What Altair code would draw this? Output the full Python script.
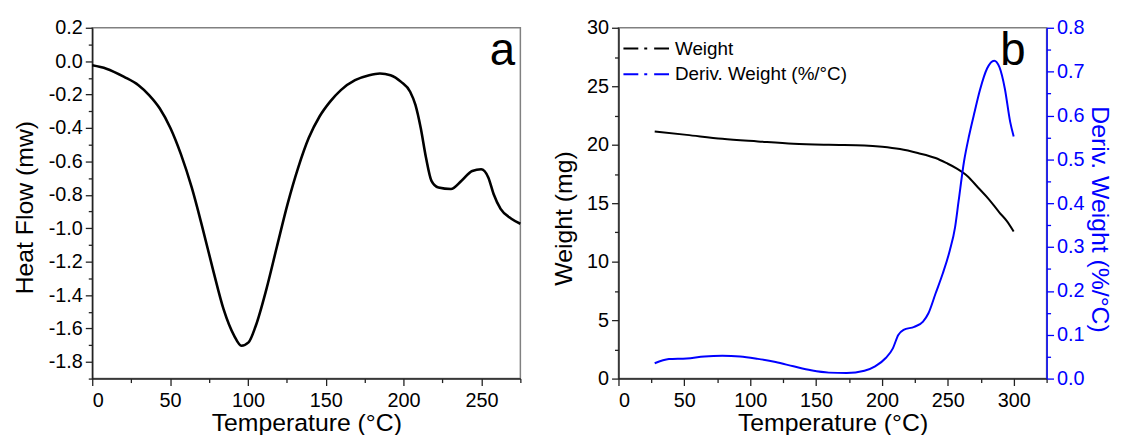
import altair as alt
import pandas as pd

# ---------------- data ----------------
dsc_temp = [0, 9.1, 20.5, 29.7, 36.5, 43.3, 50.2, 57.0, 63.9, 70.7, 77.6, 84.4, 91.2, 95.8,
            100.4, 105.0, 111.8, 118.6, 125.5, 132.3, 139.1, 146.0, 152.8, 159.7, 168.8,
            177.9, 184.8, 191.6, 198.4, 204.2, 207.6, 211.0, 214.4, 217.9, 222.4, 230.4,
            237.2, 244.1, 249.8, 254.4, 257.8, 262.3, 269.2, 275.0]
dsc_heat = [-0.025, -0.045, -0.094, -0.144, -0.203, -0.282, -0.40, -0.558, -0.756, -0.993,
            -1.249, -1.486, -1.644, -1.703, -1.683, -1.585, -1.367, -1.111, -0.854, -0.637,
            -0.459, -0.331, -0.242, -0.173, -0.114, -0.084, -0.074, -0.084, -0.124, -0.183,
            -0.262, -0.40, -0.578, -0.716, -0.756, -0.765, -0.716, -0.657, -0.647, -0.696,
            -0.795, -0.884, -0.943, -0.973]

tga_temp = [27.5, 51.8, 78.8, 105.8, 132.8, 159.7, 186.7, 200.2, 213.7, 227.2, 240.7, 248.8,
            256.9, 265.0, 273.1, 281.2, 289.2, 294.7, 300.0]
tga_weight = [21.13, 20.84, 20.5, 20.28, 20.08, 19.99, 19.94, 19.83, 19.63, 19.29, 18.86,
              18.44, 17.96, 17.31, 16.32, 15.33, 14.2, 13.49, 12.58]

dtg_temp = [27.5, 38.3, 51.8, 65.3, 78.8, 92.3, 105.8, 119.3, 132.8, 146.2, 159.7, 173.2,
            186.7, 194.8, 202.9, 208.3, 212.4, 216.4, 224.5, 231.2, 235.3, 240.7, 246.1,
            251.5, 255.5, 258.2, 262.3, 266.3, 270.4, 274.4, 279.8, 285.2, 289.2, 293.3,
            297.3, 300.0]
dtg_deriv = [0.035, 0.0445, 0.046, 0.0505, 0.052, 0.0505, 0.045, 0.0377, 0.028, 0.0189,
             0.0136, 0.0128, 0.018, 0.028, 0.047, 0.069, 0.0995, 0.111, 0.118, 0.13, 0.149,
             0.194, 0.239, 0.292, 0.345, 0.405, 0.495, 0.556, 0.609, 0.658, 0.707, 0.725,
             0.71, 0.661, 0.586, 0.552]

series_names = ["Weight", "Deriv. Weight (%/°C)"]
series_colors = ["#000000", "#0000ff"]
panel_labels = ["a", "b"]

FONT = "Liberation Sans"
W, H = 432, 354
BLUE = "#0000ff"
LBL, TTL = 20, 25


def fmt1(test):
    return f"{test} ? replace(format(datum.value, '.1f'), '\u2212', '-') : ''"


def tick_size(test):
    return {"condition": {"test": test, "value": 7}, "value": 4}


def x_axis(vals):
    return alt.Axis(title="Temperature (°C)", values=vals,
                    labelExpr="datum.value % 50 === 0 ? datum.label : ''",
                    tickSize=tick_size("datum.value % 50 === 0"),
                    labelPadding=5, titleBaseline="alphabetic", titleY=52)


# ---------------- panel a ----------------
dsc_df = pd.DataFrame({"t": dsc_temp, "hf": dsc_heat})

xa_vals = list(range(0, 276, 25))
ya_vals = [round(-1.9 + 0.1 * i, 1) for i in range(22)]
ya_test = "abs(round(datum.value*10)) % 2 === 0"

line_a = alt.Chart(dsc_df).mark_line(color="black", strokeWidth=2.6, interpolate="monotone").encode(
    x=alt.X("t:Q", scale=alt.Scale(domain=[0, 275], nice=False, zero=False),
            axis=x_axis(xa_vals)),
    y=alt.Y("hf:Q", scale=alt.Scale(domain=[-1.9, 0.2], nice=False, zero=False),
            axis=alt.Axis(title="Heat Flow (mw)", values=ya_vals,
                          labelExpr=fmt1(ya_test),
                          tickSize=tick_size(ya_test),
                          labelPadding=3, titlePadding=11, titleY=181)),
)

lab_a = alt.Chart(pd.DataFrame({"label": [panel_labels[0]]})).mark_text(
    font=FONT, fontSize=46, align="center", baseline="alphabetic", color="black"
).encode(text="label:N", x=alt.value(414), y=alt.value(38))

panel_a = alt.layer(line_a, lab_a).properties(width=W, height=H)

# ---------------- panel b ----------------
w_df = pd.DataFrame({"t": tga_temp, "v": tga_weight, "series": series_names[0]})
d_df = pd.DataFrame({"t": dtg_temp, "v": dtg_deriv, "series": series_names[1]})

xb_vals = list(range(0, 326, 25))
yb_vals = [2.5 * i for i in range(13)]
yr_vals = [round(0.05 * i, 2) for i in range(17)]
yr_test = "abs(round(datum.value*100)) % 10 === 0"

color = alt.Color("series:N", scale=alt.Scale(domain=series_names, range=series_colors),
                  legend=None)

xb = alt.X("t:Q", scale=alt.Scale(domain=[0, 325], nice=False, zero=False),
           axis=x_axis(xb_vals))

line_w = alt.Chart(w_df).mark_line(strokeWidth=2, interpolate="monotone").encode(
    x=xb,
    y=alt.Y("v:Q", scale=alt.Scale(domain=[0, 30], nice=False, zero=False),
            axis=alt.Axis(title="Weight (mg)", values=yb_vals,
                          labelExpr="datum.value % 5 === 0 ? datum.label : ''",
                          tickSize=tick_size("datum.value % 5 === 0"),
                          labelPadding=3, titlePadding=10, titleY=192)),
    color=color,
)

line_d = alt.Chart(d_df).mark_line(strokeWidth=2, interpolate="monotone").encode(
    x=xb,
    y=alt.Y("v:Q", scale=alt.Scale(domain=[0, 0.8], nice=False, zero=False),
            axis=alt.Axis(title="Deriv. Weight (%/°C)", orient="right", values=yr_vals,
                          labelExpr=fmt1(yr_test),
                          tickSize=tick_size(yr_test),
                          labelPadding=3, titlePadding=2, titleY=193,
                          domainColor=BLUE, tickColor=BLUE, labelColor=BLUE,
                          titleColor=BLUE)),
    color=color,
)

# legend (Origin-style line samples with dash-dot pattern)
legend_layers = []
for i, (name, col) in enumerate(zip(series_names, series_colors)):
    ly = 21 + 26 * i
    ldf = pd.DataFrame({"series": [name]})
    legend_layers.append(
        alt.Chart(ldf).mark_rule(color=col, strokeWidth=2, strokeDash=[15, 6, 3, 7, 15, 200])
        .encode(x=alt.value(5), x2=alt.value(51), y=alt.value(ly))
    )
    legend_layers.append(
        alt.Chart(ldf).mark_text(font=FONT, fontSize=19, align="left", baseline="middle",
                                 color="black")
        .encode(text="series:N", x=alt.value(57), y=alt.value(ly))
    )

lab_b = alt.Chart(pd.DataFrame({"label": [panel_labels[1]]})).mark_text(
    font=FONT, fontSize=46, align="center", baseline="alphabetic", color="black"
).encode(text="label:N", x=alt.value(398), y=alt.value(38))

panel_b = alt.layer(line_w, line_d, lab_b, *legend_layers).resolve_scale(
    y="independent").properties(width=W, height=H)

chart = alt.hconcat(panel_a, panel_b, spacing=25).properties(
    padding={"left": 3, "top": 7, "right": 2, "bottom": 0}
).configure_axis(
    labelFont=FONT, titleFont=FONT, labelFontSize=LBL, titleFontSize=TTL,
    titleFontWeight="normal", labelColor="black", titleColor="black",
    domainColor="#222222", tickColor="#222222", domainWidth=1.5, tickWidth=1.3,
    grid=False,
).configure_view(stroke="#808080", strokeWidth=1.5)

chart.save("out.html", embed_options={"renderer": "svg", "actions": False})
